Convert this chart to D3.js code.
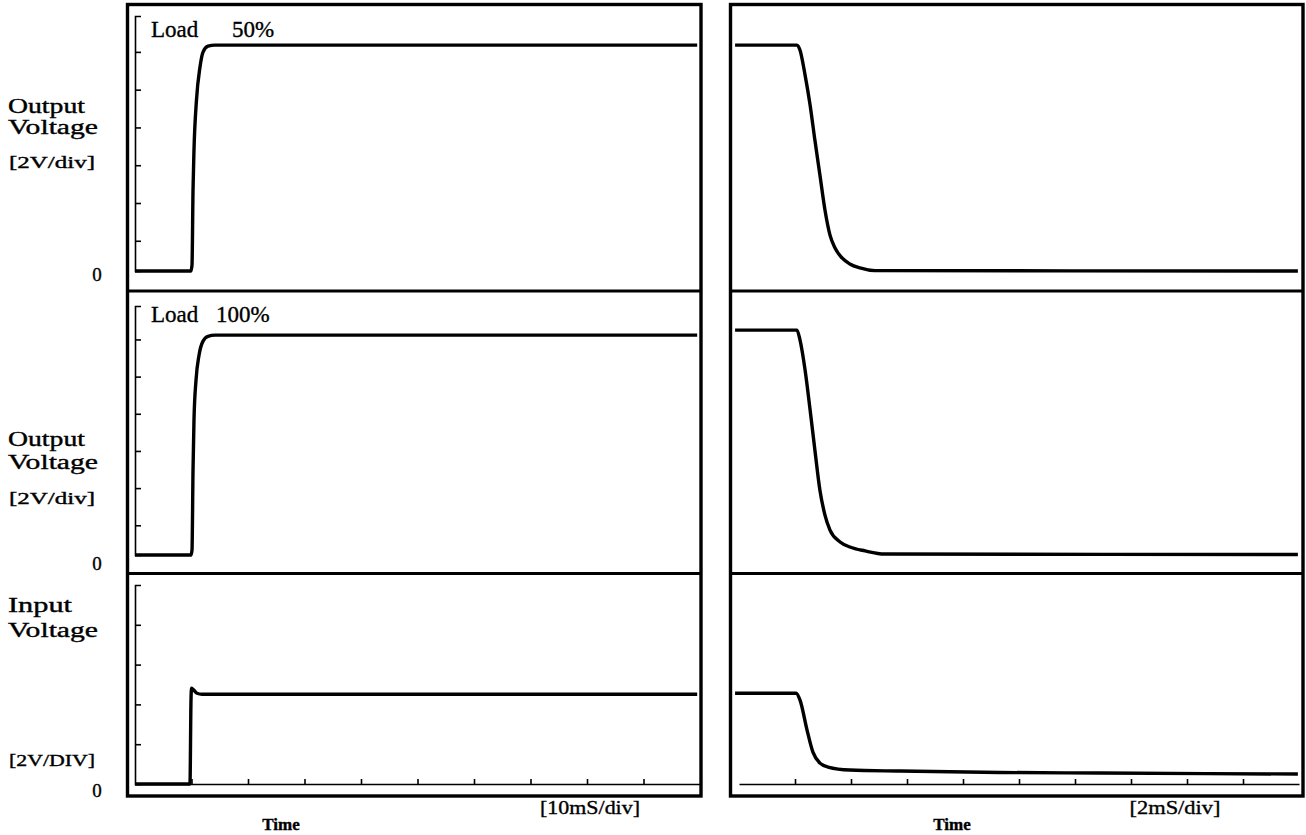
<!DOCTYPE html>
<html>
<head>
<meta charset="utf-8">
<script src="https://cdn.jsdelivr.net/npm/d3@7"></script>
<style>
  body { margin: 0; background: #fff; }
  svg text { font-family: "Liberation Serif", "DejaVu Serif", serif; fill: #000; stroke: #000; stroke-width: 0.35px; }
</style>
</head>
<body>
<svg id="chart" width="1306" height="835"></svg>
<script>
// ---- Turn-on, 50 % load (time in ms, output in V) ----
const on50Time = [0, 9.91, 10.09, 10.27, 10.44, 10.88, 11.5, 12.04, 12.92, 14.16, 99.5];
const on50Volt = [0, 0, 0.32, 4.29, 6.4, 9.05, 10.79, 11.59, 11.9, 11.96, 11.96];

// ---- Turn-on, 100 % load ----
const on100Time = [0, 9.91, 10.09, 10.27, 10.44, 10.8, 11.33, 12.04, 12.92, 14.16, 99.5];
const on100Volt = [0, 0, 0.27, 4.57, 7.26, 9.41, 10.75, 11.51, 11.77, 11.83, 11.83];

// ---- Turn-on, input voltage ----
const onInTime = [0, 9.73, 9.91, 10.0, 10.27, 10.97, 11.86, 99.5];
const onInVolt = [0, 0, 4.21, 4.81, 4.76, 4.56, 4.51, 4.51];

// ---- Turn-off, 50 % load ----
const off50Time = [-0.14, 2.07, 2.18, 2.36, 2.54, 2.71, 2.89, 3.07, 3.25, 3.43, 3.68, 3.96, 4.32, 4.86, 19.96];
const off50Volt = [11.96, 11.96, 11.69, 10.37, 8.78, 6.93, 5.08, 3.23, 1.9, 1.22, 0.69, 0.37, 0.16, 0.02, 0];

// ---- Turn-off, 100 % load ----
const off100Time = [-0.14, 2.07, 2.18, 2.36, 2.54, 2.71, 2.89, 3.07, 3.25, 3.61, 3.96, 4.5, 5.21, 19.96];
const off100Volt = [12.1, 12.1, 11.56, 9.95, 7.8, 5.65, 3.49, 2.15, 1.34, 0.7, 0.43, 0.22, 0.05, 0.03];

// ---- Turn-off, input voltage ----
const offInTime = [-0.14, 2.04, 2.18, 2.43, 2.64, 2.89, 3.18, 3.96, 5.75, 9.32, 12.89, 19.96];
const offInVolt = [4.56, 4.56, 4.21, 2.71, 1.6, 1.05, 0.85, 0.7, 0.65, 0.58, 0.55, 0.5];

// ---- Axis ticks ----
const outVoltTicks = [1.6, 3.6, 5.6, 7.6, 9.6, 11.6];
const inVoltTicks = [2, 4, 6, 8];
const onTimeTicks = [10, 20, 30, 40, 50, 60, 70, 80, 90];   // 10 ms/div
const offTimeTicks = [2, 4, 6, 8, 10, 12, 14, 16, 18];      // 2 ms/div

// ---- Text ----
const rowTitles = ["Load  50%", "Load 100%"];
const timeLabel = "Time";
const onScaleLabel = "[10mS/div]";
const offScaleLabel = "[2mS/div]";

const svg = d3.select("#chart");

// horizontal time scales of the two captures
const xOn = d3.scaleLinear().domain([0, 100]).range([135, 700]);
const xOff = d3.scaleLinear().domain([0, 20]).range([739, 1299]);

// vertical scales of the three rows
const rows = [
  { y: d3.scaleLinear().domain([0, 13.5]).range([271, 16]), ticks: outVoltTicks },
  { y: d3.scaleLinear().domain([0, 13.4]).range([555, 306]), ticks: outVoltTicks },
  { y: d3.scaleLinear().domain([0, 10]).range([784, 585]), ticks: inVoltTicks }
];

const traces = [
  { row: 0, x: xOn, t: on50Time, v: on50Volt },
  { row: 1, x: xOn, t: on100Time, v: on100Volt },
  { row: 2, x: xOn, t: onInTime, v: onInVolt },
  { row: 0, x: xOff, t: off50Time, v: off50Volt },
  { row: 1, x: xOff, t: off100Time, v: off100Volt },
  { row: 2, x: xOff, t: offInTime, v: offInVolt }
];

// outer frames and row dividers
const frames = [
  { x0: 127.5, x1: 701 },
  { x0: 730.5, x1: 1303 }
];
frames.forEach(f => {
  svg.append("rect")
    .attr("x", f.x0).attr("y", 4.5)
    .attr("width", f.x1 - f.x0).attr("height", 791.5)
    .attr("fill", "none").attr("stroke", "#000").attr("stroke-width", 3.4);
  [291, 573.5].forEach(yy => {
    svg.append("line")
      .attr("x1", f.x0).attr("x2", f.x1)
      .attr("y1", yy).attr("y2", yy)
      .attr("stroke", "#000").attr("stroke-width", 3);
  });
});

// vertical graticule of the turn-on capture
rows.forEach(r => {
  const g = svg.append("g")
    .attr("transform", "translate(135,0)")
    .call(d3.axisRight(r.y).tickValues(r.ticks).tickSize(6).tickSizeOuter(6).tickFormat(""));
  g.selectAll("path, line").attr("stroke", "#000").attr("stroke-width", 1.6);
});

// time graticule along the bottom row
[[xOn, onTimeTicks], [xOff, offTimeTicks]].forEach(([sc, tv]) => {
  const g = svg.append("g")
    .attr("transform", `translate(0,${rows[2].y(0)})`)
    .call(d3.axisTop(sc).tickValues(tv).tickSize(5).tickSizeOuter(0).tickFormat(""));
  g.selectAll("path, line").attr("stroke", "#000").attr("stroke-width", 1.6);
});

// traces
traces.forEach(tr => {
  const ys = rows[tr.row].y;
  const line = d3.line()
    .x(d => tr.x(d[0]))
    .y(d => ys(d[1]))
    .curve(d3.curveMonotoneX);
  svg.append("path")
    .datum(d3.zip(tr.t, tr.v))
    .attr("d", line)
    .attr("fill", "none")
    .attr("stroke", "#000")
    .attr("stroke-width", 3.4)
    .attr("stroke-linejoin", "round")
    .attr("stroke-linecap", "butt");
});

// row titles inside the turn-on capture
const titleY = [37, 322];
rowTitles.forEach((t, i) => {
  const parts = t.split(/\s+/);
  svg.append("text").attr("x", 151).attr("y", titleY[i])
    .attr("font-size", 23).text(parts[0]);
  svg.append("text").attr("x", i === 0 ? 232 : 216).attr("y", titleY[i])
    .attr("font-size", 23).text(parts[1]);
});

// left-hand labels
const sideLabels = [
  { t: "Output", x: 8, y: 113, s: 20, w: 77 },
  { t: "Voltage", x: 8, y: 134, s: 20, w: 90 },
  { t: "[2V/div]", x: 9, y: 168, s: 16, w: 86 },
  { t: "Output", x: 8, y: 446, s: 20, w: 77 },
  { t: "Voltage", x: 8, y: 469, s: 20, w: 90 },
  { t: "[2V/div]", x: 9, y: 504, s: 16, w: 86 },
  { t: "Input", x: 8, y: 612, s: 20, w: 64 },
  { t: "Voltage", x: 8, y: 637, s: 20, w: 90 },
  { t: "[2V/DIV]", x: 9, y: 766, s: 16, w: 86 }
];
sideLabels.forEach(l => {
  svg.append("text").attr("x", l.x).attr("y", l.y)
    .attr("font-size", l.s)
    .attr("textLength", l.w).attr("lengthAdjust", "spacingAndGlyphs")
    .text(l.t);
});

// zero markers
[281, 570, 797].forEach(by => {
  svg.append("text").attr("x", 97).attr("y", by)
    .attr("font-size", 19).attr("text-anchor", "middle").text("0");
});

// time captions
[[281, onScaleLabel, 590, 100], [952, offScaleLabel, 1175, 91]].forEach(([tx, lab, lx, lw]) => {
  svg.append("text").attr("x", tx).attr("y", 830).attr("font-size", 17)
    .attr("font-weight", "bold").attr("text-anchor", "middle").text(timeLabel);
  svg.append("text").attr("x", lx - lw / 2).attr("y", 814).attr("font-size", 19)
    .attr("textLength", lw).attr("lengthAdjust", "spacingAndGlyphs").text(lab);
});
</script>
</body>
</html>
